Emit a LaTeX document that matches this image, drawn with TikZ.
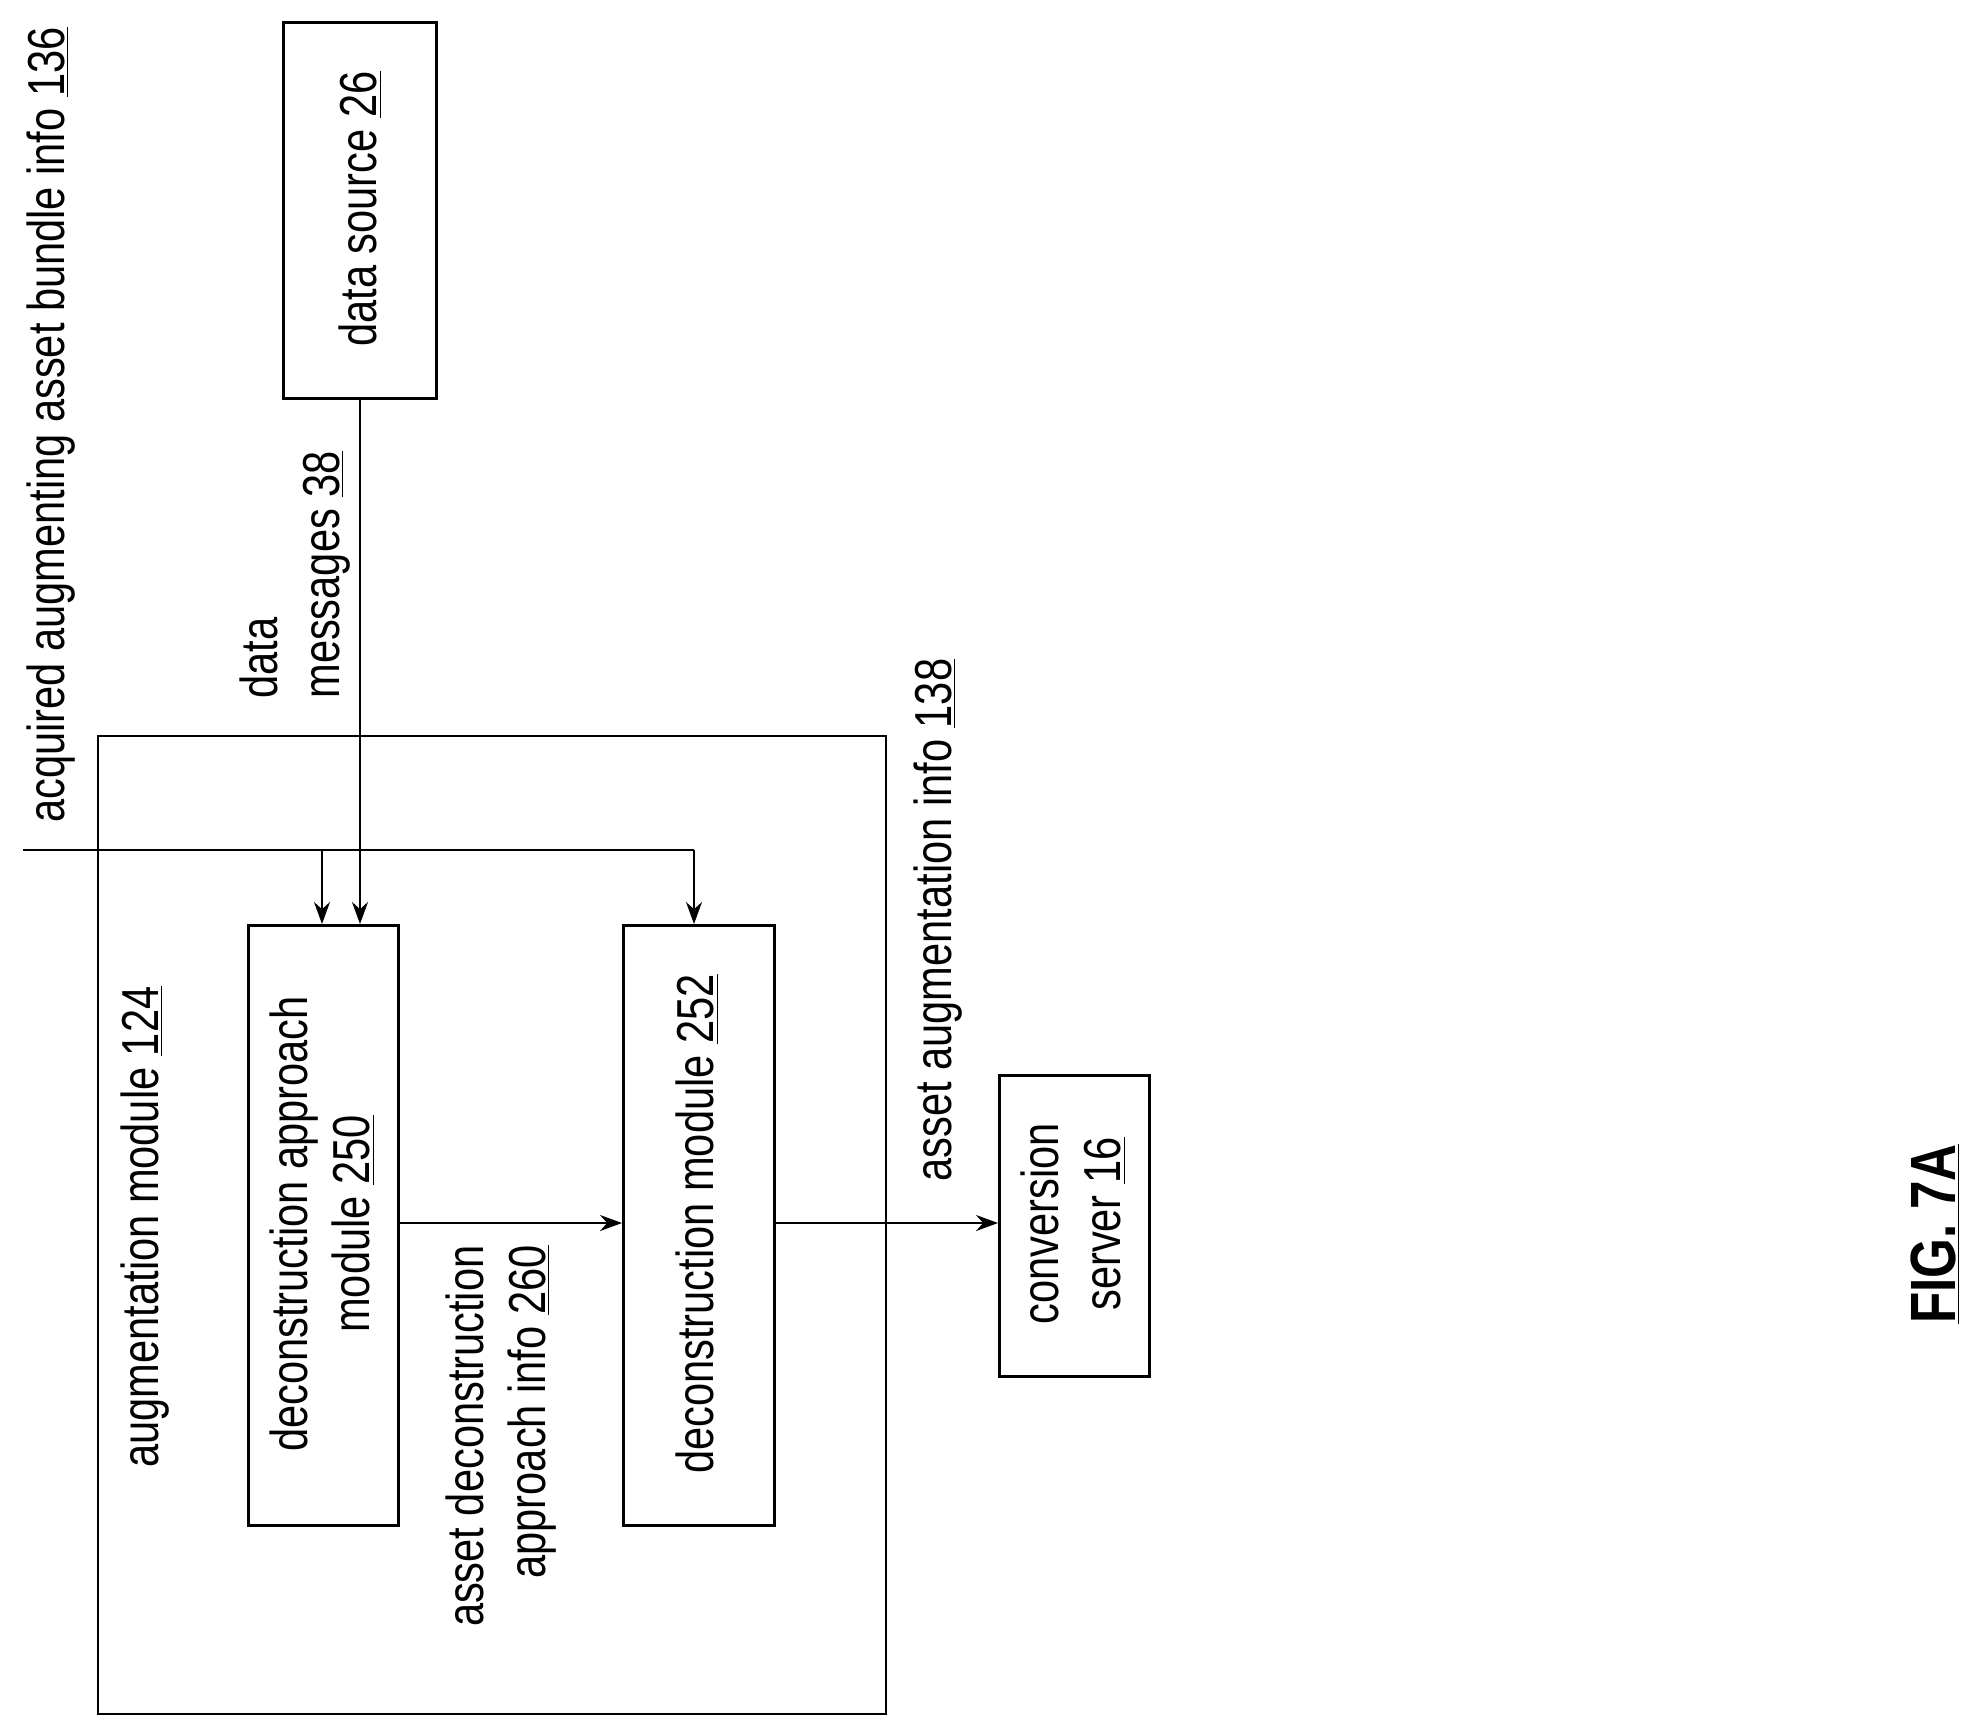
\documentclass[tikz,border=0pt]{standalone}
\usepackage{fontspec}
\setmainfont{Liberation Sans}[FakeStretch=0.8]
\usetikzlibrary{arrows.meta}
\begin{document}
\begin{tikzpicture}[x=0.5pt,y=-0.5pt,
  box/.style={draw,line width=1.5pt},
  lbl/.style={rotate=90,font=\fontsize{26}{31}\selectfont,inner sep=0pt},
  arr/.style={line width=0.8pt,-{Stealth[length=11pt,width=8pt]}},
  ln/.style={line width=0.8pt}]
\useasboundingbox (0,0) rectangle (1979,1731);
\node[box,minimum width=153*0.5pt,minimum height=376*0.5pt,anchor=north west] (ds) at (282,21) {};
\node[lbl] (dst) at (360,209) {data source \underline{26}};
\node[draw,line width=1pt,minimum width=788*0.5pt,minimum height=978*0.5pt,anchor=north west] (aug) at (97,735) {};
\node[lbl] (augt) at (145,1227) {augmentation module \underline{124}};
\node[box,minimum width=150*0.5pt,minimum height=600*0.5pt,anchor=north west] (m250) at (247,924) {};
\node[lbl,align=center] (m250t) at (322,1224) {deconstruction approach\\module \underline{250}};
\node[box,minimum width=151*0.5pt,minimum height=600*0.5pt,anchor=north west] (m252) at (622,924) {};
\node[lbl] (m252t) at (697,1224) {deconstruction module \underline{252}};
\node[box,minimum width=150*0.5pt,minimum height=301*0.5pt,anchor=north west] (cs) at (998,1074) {};
\node[lbl,align=center] (cst) at (1073,1224) {conversion\\server \underline{16}};
\node[lbl] (acq) at (51,425) {acquired augmenting asset bundle info \underline{136}};
\node[lbl,align=left,anchor=west] (dm) at (295,699) {data\\messages \underline{38}};
\node[lbl,align=right,anchor=east] (adi) at (501,1245) {asset deconstruction\\approach info \underline{260}};
\node[lbl] (aai) at (938,920) {asset augmentation info \underline{138}};
\node[lbl,font=\fontsize{32}{38}\selectfont\bfseries] (fig) at (1935,1234) {\underline{FIG. 7A}};
\coordinate (in) at (23,850);
\coordinate (j1) at (322,850);
\coordinate (j2) at (694,850);
\draw[ln] (in) -- (j2);
\draw[arr] (j1) -- (m250.north west -| j1);
\draw[arr] (j2) -- (m252.north west -| j2);
\draw[arr] (ds.south west -| 360,0) -- (m250.north west -| 360,0);
\draw[arr] (m250.east |- 0,1223) -- (m252.west |- 0,1223);
\draw[arr] (m252.east |- 0,1223) -- (cs.west |- 0,1223);
\end{tikzpicture}
\end{document}
